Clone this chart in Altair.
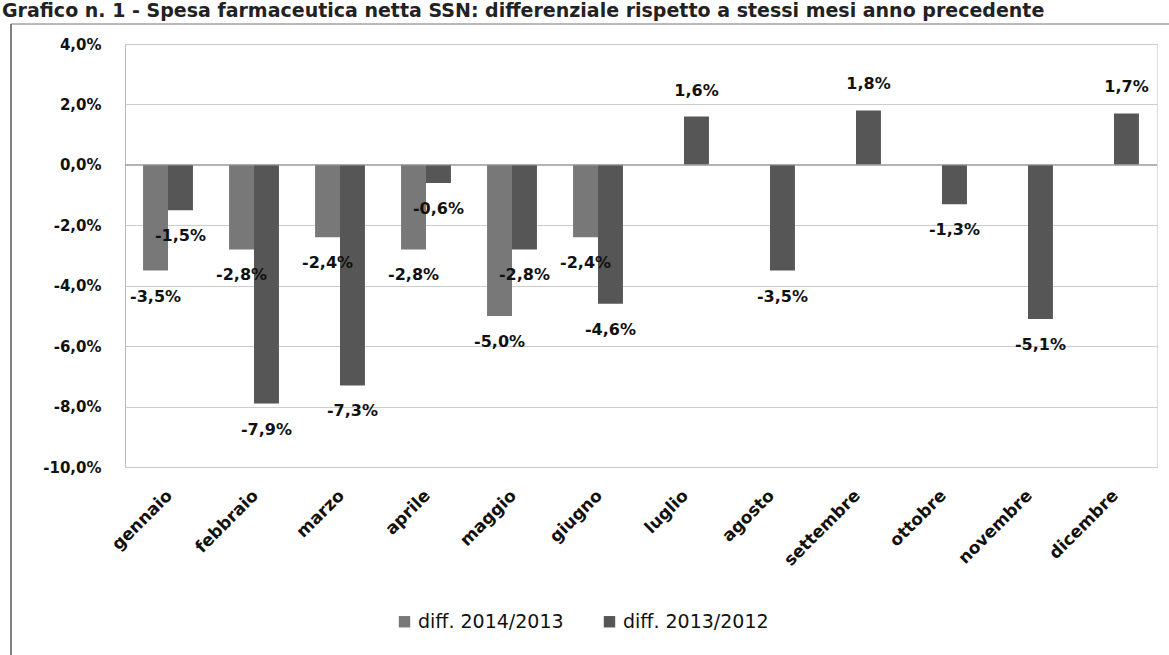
import altair as alt
import pandas as pd

months = ["gennaio", "febbraio", "marzo", "aprile", "maggio", "giugno",
          "luglio", "agosto", "settembre", "ottobre", "novembre", "dicembre"]
series_names = ["diff. 2014/2013", "diff. 2013/2012"]
diff_2014_2013 = [-3.5, -2.8, -2.4, -2.8, -5.0, -2.4]
diff_2013_2012 = [-1.5, -7.9, -7.3, -0.6, -2.8, -4.6, 1.6, -3.5, 1.8, -1.3, -5.1, 1.7]
y_ticks = [4, 2, 0, -2, -4, -6, -8, -10]
title_text = "Grafico n. 1 - Spesa farmaceutica netta SSN: differenziale rispetto a stessi mesi anno precedente"

rows = []
for m, v in zip(months, diff_2014_2013):
    rows.append({"mese": m, "serie": series_names[0], "v": v / 100})
for m, v in zip(months, diff_2013_2012):
    rows.append({"mese": m, "serie": series_names[1], "v": v / 100})
df = pd.DataFrame(rows)

FONT = "DejaVu Sans"
pct_expr = "replace(replace(format(datum.value, '.1%'), '.', ','), '\u2212', '-')"

x_enc = alt.X("mese:N", sort=months,
              scale=alt.Scale(paddingInner=0.42, paddingOuter=0.21),
              axis=alt.Axis(title=None, labelAngle=-45, domain=False, ticks=False,
                            labelFont=FONT, labelFontSize=17, labelFontWeight="bold",
                            labelColor="#111", labelPadding=20, labelOffset=-4))
xoff_enc = alt.XOffset("serie:N", sort=series_names,
                       scale=alt.Scale(paddingInner=0, paddingOuter=0))
y_enc = alt.Y("v:Q", scale=alt.Scale(domain=[-0.10, 0.04], nice=False),
              axis=alt.Axis(title=None, values=[t / 100 for t in y_ticks], labelExpr=pct_expr,
                            grid=True, gridColor="#cccccc", domainColor="#bbbbbb",
                            ticks=False, labelFont=FONT, labelFontSize=15,
                            labelFontWeight="bold", labelColor="#111", labelPadding=24))

base = alt.Chart(df)

bars = base.mark_bar().encode(
    x=x_enc, xOffset=xoff_enc, y=y_enc,
    color=alt.Color("serie:N", sort=series_names,
                    scale=alt.Scale(domain=series_names, range=["#787878", "#565656"]),
                    legend=alt.Legend(title=None, orient="none", legendX=270, legendY=568,
                                      direction="horizontal", symbolType="square",
                                      symbolSize=130, symbolStrokeWidth=0,
                                      labelFont=FONT, labelFontSize=19, labelColor="#111",
                                      columnPadding=36)),
)

lab = base.transform_calculate(
    lbl="replace(replace(format(datum.v, '.1%'), '.', ','), '\u2212', '-')"
)
neg_labels = lab.transform_filter("datum.v < 0").mark_text(
    dy=26, font=FONT, fontSize=16, fontWeight="bold", color="#111", baseline="middle"
).encode(x=alt.X("mese:N", sort=months), xOffset=xoff_enc, y="v:Q", text="lbl:N")
pos_labels = lab.transform_filter("datum.v >= 0").mark_text(
    dy=-26, font=FONT, fontSize=16, fontWeight="bold", color="#111", baseline="middle"
).encode(x=alt.X("mese:N", sort=months), xOffset=xoff_enc, y="v:Q", text="lbl:N")

zero = alt.Chart(pd.DataFrame({"z": [0.0]})).mark_rule(color="#9a9a9a", strokeWidth=1.2).encode(
    y="z:Q")

frame_df = pd.DataFrame({"k": [0]})
frame_left = alt.Chart(frame_df).mark_rule(color="#555555", strokeWidth=1.5).encode(
    x=alt.value(-114), y=alt.value(-20), y2=alt.value(611))
frame_top = alt.Chart(frame_df).mark_rule(color="#777777", strokeWidth=1.2).encode(
    x=alt.value(-114), x2=alt.value(1044), y=alt.value(-20))

chart = alt.layer(bars, zero, neg_labels, pos_labels, frame_left, frame_top).properties(
    width=1032, height=423,
    title=alt.TitleParams(title_text, anchor="start", frame="group", dx=-123, offset=2,
                          font=FONT, fontSize=19, fontWeight="bold", color="#222"),
    autosize=alt.AutoSizeParams(type="none"),
    padding={"left": 125, "top": 44, "right": 12, "bottom": 188},
).configure_view(stroke=None).configure(background="white")

chart.save("out.html", embed_options={"renderer": "svg", "actions": False})
